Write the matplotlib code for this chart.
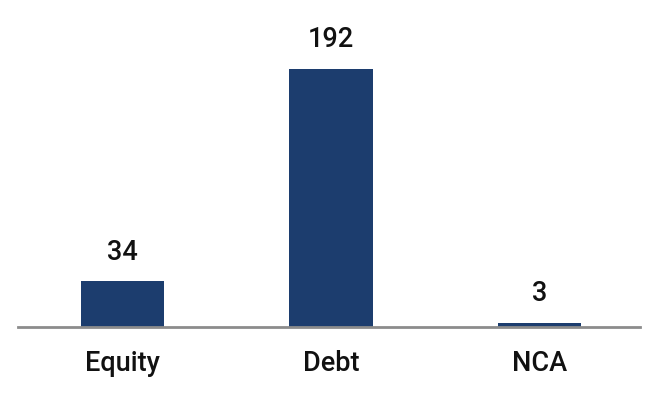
import matplotlib
matplotlib.use("Agg")
import matplotlib.pyplot as plt

categories = ["Equity", "Debt", "NCA"]
values = [34, 192, 3]

plt.rcParams['font.family'] = ['Roboto', 'DejaVu Sans']

fig = plt.figure(figsize=(6.49, 4.02), dpi=100)
ax = fig.add_axes([0.0277, 0.1841, 0.958, 0.79])

bars = ax.bar(range(len(categories)), values, width=0.4, color="#1c3d6e")
for b, v in zip(bars, values):
    ax.annotate(str(v), (b.get_x() + b.get_width() / 2, v),
                xytext=(0, 12), textcoords="offset points",
                ha="center", va="bottom", fontsize=19.5,
                fontweight="medium", color="#111111")

ax.set_xlim(-0.5, 2.48)
ax.set_ylim(0, 236)
ax.set_xticks(range(len(categories)))
ax.set_xticklabels(categories, fontsize=19.5, fontweight="medium", color="#111111")
ax.tick_params(axis="x", length=0, pad=16)
ax.set_yticks([])
for s in ["top", "right", "left"]:
    ax.spines[s].set_visible(False)
ax.spines["bottom"].set_color("#8c8c8c")
ax.spines["bottom"].set_linewidth(2)

fig.savefig("out.png", dpi=100)
